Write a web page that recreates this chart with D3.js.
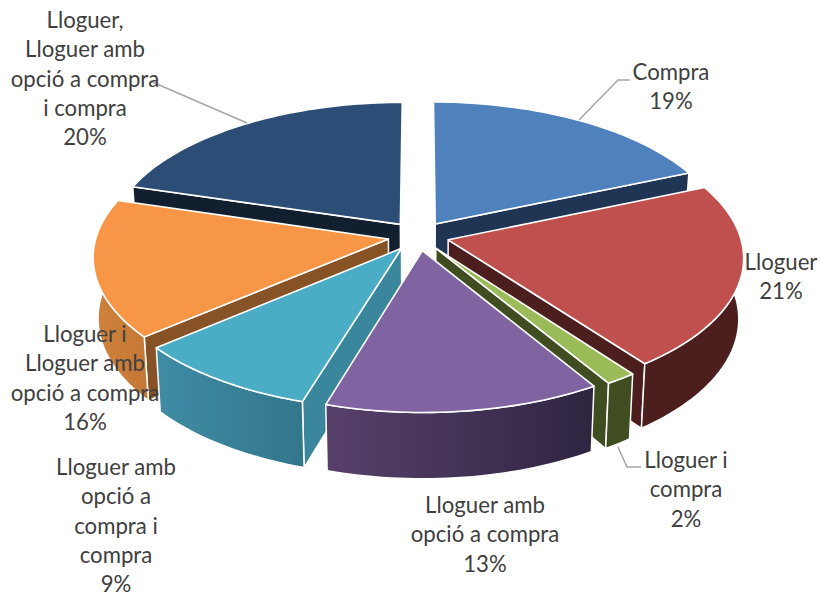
<!DOCTYPE html>
<html>
<head>
<meta charset="utf-8">
<script src="https://cdn.jsdelivr.net/npm/d3@7"></script>
<style>
html, body { margin: 0; padding: 0; background: #fff; }
text { font-family: Lato, "Open Sans", sans-serif; font-size: 22.2px; fill: #404040; text-anchor: middle; }
</style>
</head>
<body>
<svg id="chart" width="821" height="598"></svg>
<script>
const categories = ["Compra", "Lloguer", "Lloguer i compra", "Lloguer amb opció a compra",
	"Lloguer amb opció a compra i compra", "Lloguer i Lloguer amb opció a compra",
	"Lloguer, Lloguer amb opció a compra i compra"];
// the labels show them rounded
const values = [18.6, 21.2, 1.5, 13.4, 9.1, 15.8, 20.4];

// wrapped label lines, same order as categories
const labelLines = [
	["Compra"],
	["Lloguer"],
	["Lloguer i", "compra"],
	["Lloguer amb", "opció a compra"],
	["Lloguer amb", "opció a", "compra i", "compra"],
	["Lloguer i", "Lloguer amb", "opció a compra"],
	["Lloguer,", "Lloguer amb", "opció a compra", "i compra"]
];

// colours: top face, side wall, and arc wall gradient (left, right)
const topColors = ["#4f81bd", "#c0504d", "#9bbb59", "#8064a2", "#4bacc6", "#f79646", "#2c4d75"];
const wallColors = ["#1f3553", "#4d1e1e", "#3f4d20", "#3a2c4a", "#3a869c", "#865226", "#111f2f"];
const arcLeft = ["#1f3553", "#4d1e1e", "#3f4d20", "#57416b", "#3f8ca5", "#cf823c", "#111f2f"];
const arcRight = ["#1f3553", "#4d1e1e", "#3f4d20", "#2f2540", "#32768a", "#c47835", "#111f2f"];

// label anchor (centre x, first baseline) and leader polylines
const labelX = [671, 781, 686, 485, 116, 85, 85];
const labelY = [80, 270, 468, 513, 475, 342, 28];
const lineHeight = 29.3;
const leaders = [
	[[579, 120], [618, 80], [630, 80]],
	[[618, 447], [627, 467], [641, 467]],
	[[247, 123], [150, 81]]
];

const params = {
	cx: 418.5,
	cy: 236,
	rx: 292,      // horizontal radius on screen at disc centre
	ry: 139,      // vertical radius on screen at disc centre
	persp: 0.118, // nearer points get bigger
	depth: 60,
	shrink: 0.015, // bottom face is slightly smaller than the top
	explode: 0.105
};

const svg = d3.select("#chart");
const defs = svg.append("defs");

// disc coordinates -> screen
const scaleX = d3.scaleLinear().domain([-1, 1]).range([-params.rx, params.rx]),
	scaleY = d3.scaleLinear().domain([-1, 1]).range([-params.ry, params.ry]);

function project(x, y, z) {
	const s = 1 / (1 - params.persp * y),
		k = 1 - params.shrink * z;
	return [
		params.cx + scaleX(x) * s * k,
		params.cy + scaleY(y) * s * k + params.depth * s * z
	];
}

const pie = d3.pie().sort(null).value(d => d);
const arcs = pie(values);
const line = d3.line();

function rimPoint(d, a, z) {
	const mid = (d.startAngle + d.endAngle) / 2,
		ox = Math.sin(mid) * params.explode,
		oy = -Math.cos(mid) * params.explode;
	return project(ox + Math.sin(a), oy - Math.cos(a), z);
}

function apexPoint(d, z) {
	const mid = (d.startAngle + d.endAngle) / 2;
	return project(Math.sin(mid) * params.explode, -Math.cos(mid) * params.explode, z);
}

function rim(d, from, to, z) {
	const n = Math.max(2, Math.ceil((to - from) * 40));
	return d3.range(n + 1).map(i => rimPoint(d, from + (to - from) * i / n, z));
}

// back to front, so nearer slices cover the walls behind them
const drawOrder = [6, 0, 5, 1, 4, 2, 3];
// which straight edge of the slice has a wall facing the viewer
const wallEdge = ["endAngle", "endAngle", "endAngle", null, "startAngle", "startAngle", "startAngle"];

drawOrder.forEach(i => {
	const d = arcs[i],
		g = svg.append("g").attr("class", "slice");

	// straight wall
	if (wallEdge[i]) {
		const edge = d[wallEdge[i]];
		g.append("path")
			.attr("d", line([apexPoint(d, 0), rimPoint(d, edge, 0), rimPoint(d, edge, 1), apexPoint(d, 1)]) + "Z")
			.attr("fill", wallColors[i])
			.attr("stroke", "#fff")
			.attr("stroke-width", 1.5)
			.attr("stroke-linejoin", "round");
	}

	// curved wall, only the part turned towards the viewer
	const limitA = Math.PI / 2 - 0.1,
		limitB = 3 * Math.PI / 2 + 0.1,
		from = Math.max(d.startAngle, limitA),
		to = Math.min(d.endAngle, limitB);
	if (to > from) {
		const top = rim(d, from, to, 0),
			bottom = rim(d, from, to, 1).reverse(),
			pts = top.concat(bottom),
			xs = d3.extent(pts, p => p[0]),
			id = `wall${i}`;
		const grad = defs.append("linearGradient")
			.attr("id", id)
			.attr("gradientUnits", "userSpaceOnUse")
			.attr("x1", xs[0]).attr("x2", xs[1]).attr("y1", 0).attr("y2", 0);
		grad.append("stop").attr("offset", 0).attr("stop-color", arcLeft[i]);
		grad.append("stop").attr("offset", 1).attr("stop-color", arcRight[i]);
		g.append("path")
			.attr("d", line(pts) + "Z")
			.attr("fill", `url(#${id})`)
			.attr("stroke", "#fff")
			.attr("stroke-width", 1.5)
			.attr("stroke-linejoin", "round");
	}

	// top face
	const face = [apexPoint(d, 0)].concat(rim(d, d.startAngle, d.endAngle, 0));
	g.append("path")
		.attr("d", line(face) + "Z")
		.attr("fill", topColors[i])
		.attr("stroke", "#fff")
		.attr("stroke-width", 1.6)
		.attr("stroke-linejoin", "round");
});

// leader lines
svg.append("g").selectAll("path")
	.data(leaders)
	.join("path")
	.attr("d", d => line(d))
	.attr("fill", "none")
	.attr("stroke", "#a6a6a6")
	.attr("stroke-width", 1.5);

// labels
const label = svg.append("g").selectAll("text")
	.data(categories)
	.join("text")
	.attr("transform", (d, i) => `translate(${labelX[i]},${labelY[i]})`);

label.selectAll("tspan")
	.data((d, i) => labelLines[i].concat(Math.round(values[i]) + "%"))
	.join("tspan")
	.attr("x", 0)
	.attr("y", (d, i) => i * lineHeight)
	.text(d => d);
</script>
</body>
</html>
